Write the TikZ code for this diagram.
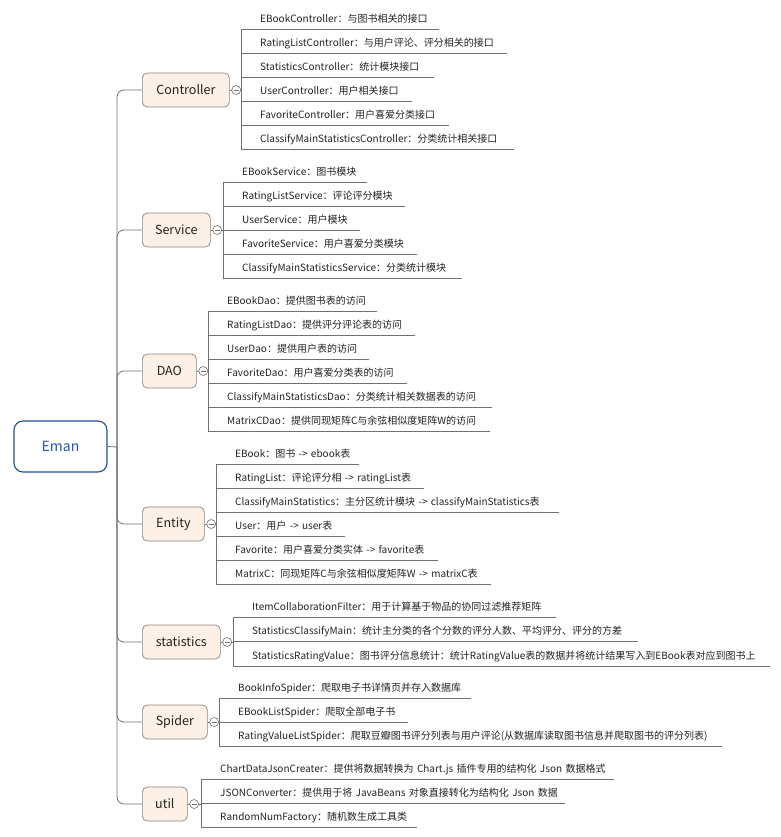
\documentclass[tikz,border=0pt]{standalone}
\usepackage{fontspec}
\setmainfont{Noto Sans CJK SC}
\definecolor{linec}{HTML}{707070}
\definecolor{boxfill}{HTML}{FDF0E6}
\definecolor{boxdraw}{HTML}{8C8279}
\definecolor{rootblue}{HTML}{1F4E9A}
\definecolor{roottext}{HTML}{2456B4}
\definecolor{txt}{HTML}{222222}
\newcommand\mmleaf[6]{%
  \pgfmathsetmacro\mmw{#5-#3-19}%
  \node[leaf, text width=\mmw pt] (#1) at (#3+19,#4) {\mbox{#6}};%
  \draw[conn] (#2) |- (#1.south east);}
\begin{document}
\begin{tikzpicture}[x=1pt,y=-1pt,
  conn/.style={draw=linec, line width=0.8pt},
  trunkline/.style={conn, rounded corners=7pt},
  rootbox/.style={draw=rootblue, line width=1.1pt, rounded corners=9pt, fill=white,
    minimum width=93pt, minimum height=51pt, text=roottext, font=\fontsize{14}{16}\selectfont},
  branch/.style={draw=boxdraw, line width=0.7pt, fill=boxfill, rounded corners=5pt,
    minimum height=34pt, anchor=west, text=txt, font=\fontsize{12.5}{14}\selectfont},
  leaf/.style={anchor=south west, inner xsep=0pt, inner ysep=4pt, align=left,
    text height=8pt, text depth=2.2pt, text=txt, font=\fontsize{10}{12}\selectfont},
  collapse/.style={circle, draw=linec, line width=0.6pt, fill=white, minimum size=9pt, inner sep=0pt,
    path picture={\draw[linec, line width=0.6pt] ([xshift=-2.4pt]path picture bounding box.center) -- ([xshift=2.4pt]path picture bounding box.center);}}
]
\useasboundingbox (0,0) rectangle (780,837);

% root
\node[rootbox] (root) at (60.5,446.5) {Eman};
\coordinate (j) at (117,447);
\draw[conn] (root.east) -- (j);

% branches
\node[branch, minimum width=87pt] (ctrl) at (142,90) {Controller};
\node[branch, minimum width=68pt] (serv) at (142,230) {Service};
\node[branch, minimum width=54pt] (dao) at (142,371) {DAO};
\node[branch, minimum width=62pt] (ent) at (142,524) {Entity};
\node[branch, minimum width=78pt] (stat) at (142,642) {statistics};
\node[branch, minimum width=65pt] (spid) at (142,722) {Spider};
\node[branch, minimum width=45pt] (util) at (142,804) {util};

\foreach \b in {ctrl,serv,dao,ent,stat,spid,util}{
  \draw[trunkline] (j) |- (\b.west);
}

% hubs
\coordinate (ctrlhub) at (241,90);
\coordinate (servhub) at (223,230);
\coordinate (daohub) at (208,371);
\coordinate (enthub) at (216,524);
\coordinate (stathub) at (233,642);
\coordinate (spidhub) at (219,722);
\coordinate (utilhub) at (201,804);

\foreach \b in {ctrl,serv,dao,ent,stat,spid,util}{
  \draw[conn] (\b.east) -- (\b hub);
  \node[collapse] at ([xshift=6.5pt]\b.east) {};
}

% Controller leaves
\mmleaf{c1}{ctrlhub}{241}{29}{439}{EBookController：与图书相关的接口}
\mmleaf{c2}{ctrlhub}{241}{53}{507}{RatingListController：与用户评论、评分相关的接口}
\mmleaf{c3}{ctrlhub}{241}{77}{434}{StatisticsController：统计模块接口}
\mmleaf{c4}{ctrlhub}{241}{101}{412}{UserController：用户相关接口}
\mmleaf{c5}{ctrlhub}{241}{125}{449}{FavoriteController：用户喜爱分类接口}
\mmleaf{c6}{ctrlhub}{241}{149}{514}{ClassifyMainStatisticsController：分类统计相关接口}

% Service leaves
\mmleaf{s1}{servhub}{223}{182}{367}{EBookService：图书模块}
\mmleaf{s2}{servhub}{223}{206}{405}{RatingListService：评论评分模块}
\mmleaf{s3}{servhub}{223}{230}{360}{UserService：用户模块}
\mmleaf{s4}{servhub}{223}{254}{417}{FavoriteService：用户喜爱分类模块}
\mmleaf{s5}{servhub}{223}{278}{462}{ClassifyMainStatisticsService：分类统计模块}

% DAO leaves
\mmleaf{d1}{daohub}{208}{311}{377}{EBookDao：提供图书表的访问}
\mmleaf{d2}{daohub}{208}{335}{415}{RatingListDao：提供评分评论表的访问}
\mmleaf{d3}{daohub}{208}{359}{369}{UserDao：提供用户表的访问}
\mmleaf{d4}{daohub}{208}{383}{407}{FavoriteDao：用户喜爱分类表的访问}
\mmleaf{d5}{daohub}{208}{407}{492}{ClassifyMainStatisticsDao：分类统计相关数据表的访问}
\mmleaf{d6}{daohub}{208}{431}{490}{MatrixCDao：提供同现矩阵C与余弦相似度矩阵W的访问}

% Entity leaves
\mmleaf{e1}{enthub}{216}{464}{359}{EBook：图书 -> ebook表}
\mmleaf{e2}{enthub}{216}{488}{424}{RatingList：评论评分相 -> ratingList表}
\mmleaf{e3}{enthub}{216}{512}{559}{ClassifyMainStatistics：主分区统计模块 -> classifyMainStatistics表}
\mmleaf{e4}{enthub}{216}{536}{345}{User：用户 -> user表}
\mmleaf{e5}{enthub}{216}{560}{438}{Favorite：用户喜爱分类实体 -> favorite表}
\mmleaf{e6}{enthub}{216}{584}{491}{MatrixC：同现矩阵C与余弦相似度矩阵W -> matrixC表}

% statistics leaves
\mmleaf{t1}{stathub}{233}{617}{556}{ItemCollaborationFilter：用于计算基于物品的协同过滤推荐矩阵}
\mmleaf{t2}{stathub}{233}{641}{638}{StatisticsClassifyMain：统计主分类的各个分数的评分人数、平均评分、评分的方差}
\mmleaf{t3}{stathub}{233}{666}{770}{StatisticsRatingValue：图书评分信息统计：统计RatingValue表的数据并将统计结果写入到EBook表对应到图书上}

% Spider leaves
\mmleaf{p1}{spidhub}{219}{698}{471}{BookInfoSpider：爬取电子书详情页并存入数据库}
\mmleaf{p2}{spidhub}{219}{722}{408}{EBookListSpider：爬取全部电子书}
\mmleaf{p3}{spidhub}{219}{746}{722}{RatingValueListSpider：爬取豆瓣图书评分列表与用户评论(从数据库读取图书信息并爬取图书的评分列表)}

% util leaves
\mmleaf{u1}{utilhub}{201}{779}{614}{ChartDataJsonCreater：提供将数据转换为 Chart.js 插件专用的结构化 Json 数据格式}
\mmleaf{u2}{utilhub}{201}{803}{565}{JSONConverter：提供用于将 JavaBeans 对象直接转化为结构化 Json 数据}
\mmleaf{u3}{utilhub}{201}{827}{417}{RandomNumFactory：随机数生成工具类}

\end{tikzpicture}
\end{document}
